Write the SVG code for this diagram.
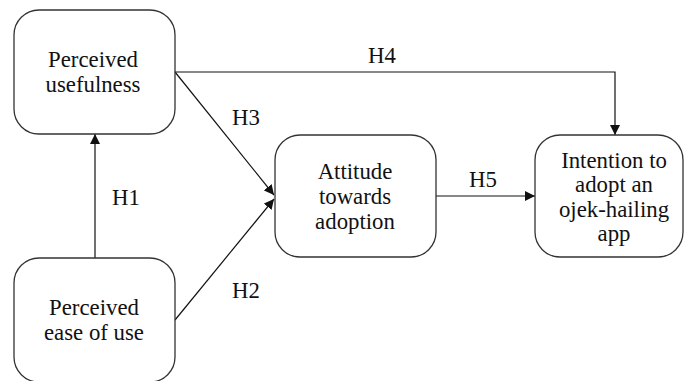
<svg xmlns="http://www.w3.org/2000/svg" width="685" height="381" viewBox="0 0 685 381" font-family="Liberation Serif, DejaVu Serif, serif">
<style>
.node rect{fill:#fff;stroke:#333;stroke-width:1.3}
text{font-family:'Liberation Serif','DejaVu Serif',serif;font-size:22.8px;fill:#111;text-anchor:middle}
.edge{fill:none;stroke:#111;stroke-width:1.2}
</style>
<defs>
<marker id="arr" viewBox="0 0 10 10" refX="10" refY="5" markerWidth="10" markerHeight="10" markerUnits="userSpaceOnUse" orient="auto">
<path d="M0,0 L10,5 L0,10 z" fill="#111"/>
</marker>
</defs>
<rect width="685" height="381" fill="#fff"/>
<g id="connectors">
<path class="edge" d="M95,258 V134" marker-end="url(#arr)"/>
<path class="edge" d="M175,72 L274,195" marker-end="url(#arr)"/>
<path class="edge" d="M175,320 L274,199" marker-end="url(#arr)"/>
<path class="edge" d="M175,72 H615 V135" marker-end="url(#arr)"/>
<path class="edge" d="M436,196 H535" marker-end="url(#arr)"/>
<text x="126" y="205">H1</text>
<text x="246" y="125">H3</text>
<text x="246" y="298">H2</text>
<text x="382" y="63">H4</text>
<text x="483" y="187">H5</text>
</g>
<g id="pu" class="node">
<rect x="14" y="10" width="161" height="124" rx="25"/>
<text x="93" y="67">Perceived</text>
<text x="93" y="92">usefulness</text>
</g>
<g id="peou" class="node">
<rect x="14" y="258" width="161" height="124" rx="25"/>
<text x="94" y="315">Perceived</text>
<text x="94" y="340">ease of use</text>
</g>
<g id="att" class="node">
<rect x="275" y="135" width="161" height="122" rx="25"/>
<text x="355" y="179">Attitude</text>
<text x="355" y="204">towards</text>
<text x="355" y="229">adoption</text>
</g>
<g id="int" class="node">
<rect x="535" y="135" width="148" height="122" rx="25"/>
<text x="614" y="168">Intention to</text>
<text x="614" y="192">adopt an</text>
<text x="614" y="217">ojek-hailing</text>
<text x="614" y="241">app</text>
</g>
</svg>
